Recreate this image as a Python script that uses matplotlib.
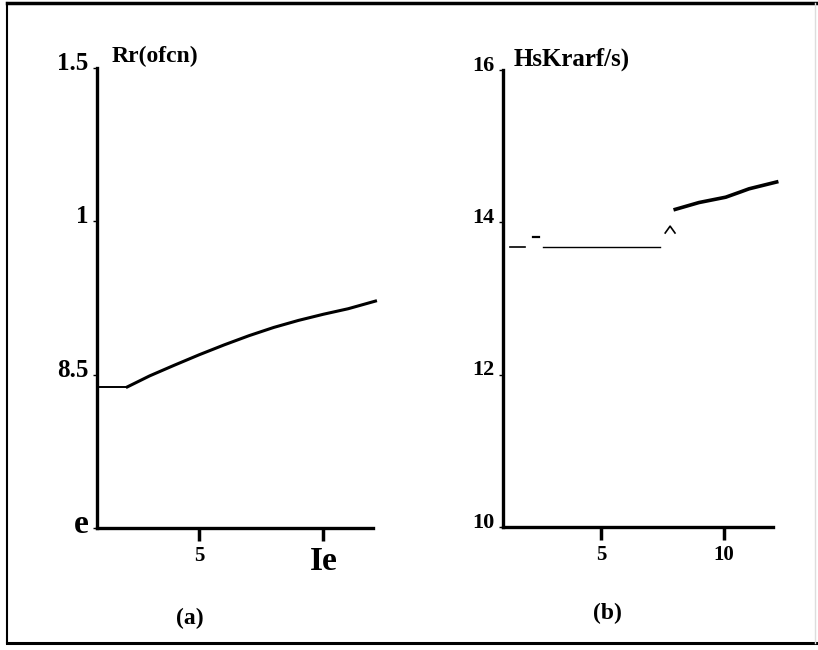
import matplotlib.pyplot as plt
import matplotlib.transforms as mtransforms
from matplotlib.lines import Line2D

# ---- data ----
# panel (a)
a_x = [1.0, 2.1, 3, 4, 5, 6, 7, 8, 9, 10, 11, 12.1]
a_y = [0.46, 0.46, 0.496, 0.531, 0.565, 0.597, 0.627, 0.654, 0.677, 0.697, 0.715, 0.74]
a_yticks = [0, 0.5, 1, 1.5]
a_yticklabels = ['e', '8.5', '1', '1.5']
a_xticks = [5, 10]
a_xticklabels = ['5', 'Ie']

# panel (b): broken flat part, the small caret, then the rising part
b_flat1_x = [1.28, 1.89]
b_flat1_y = [13.68, 13.68]
b_flat2_x = [2.22, 2.46]
b_flat2_y = [13.81, 13.81]
b_flat3_x = [2.63, 7.38]
b_flat3_y = [13.68, 13.68]
b_caret_x = [7.6, 7.8, 8.0]
b_caret_y = [13.86, 13.95, 13.86]
b_rise_x = [8.01, 8.98, 10.07, 10.68, 11.02, 12.15]
b_rise_y = [14.17, 14.26, 14.33, 14.40, 14.44, 14.53]
b_yticks = [10, 12, 14, 16]
b_yticklabels = ['10', '12', '14', '16']
b_xticks = [5, 10]
b_xticklabels = ['5', '10']

plt.rcParams['font.family'] = 'Liberation Serif'
plt.rcParams['font.weight'] = 'bold'

fig = plt.figure(figsize=(8.18, 6.5), dpi=100)
W, H = 818.0, 650.0


def setup(ax, xlim, ylim, yticks, yticklabels, xticks, xticklabels, ysize):
    ax.set_xlim(*xlim)
    ax.set_ylim(*ylim)
    for s in ['top', 'right']:
        ax.spines[s].set_visible(False)
    for s in ['left', 'bottom']:
        ax.spines[s].set_linewidth(2.4)
    ax.set_yticks(yticks)
    ax.set_yticklabels(yticklabels, fontsize=ysize, fontweight='bold')
    ax.set_xticks(xticks)
    ax.set_xticklabels(xticklabels, fontsize=15, fontweight='bold')
    ax.tick_params(axis='y', length=3, width=1, pad=3)
    ax.tick_params(axis='x', length=9, width=2.5, pad=4)
    # labels sit a little above their tick in the scan
    off = mtransforms.ScaledTranslation(0, 7 / 100., fig.dpi_scale_trans)
    for lab in ax.get_yticklabels():
        lab.set_transform(lab.get_transform() + off)


# panel (a)
ax1 = fig.add_axes([97 / W, 1 - 528 / H, 276 / W, 460 / H])
setup(ax1, (0.88, 12.0), (0, 1.5), a_yticks, a_yticklabels, a_xticks, a_xticklabels, 18)
ax1.plot(a_x[:2], a_y[:2], color='black', lw=1.4, clip_on=False)
ax1.plot(a_x[1:], a_y[1:], color='black', lw=2.2, clip_on=False)
ax1.get_yticklabels()[0].set_fontsize(24)
ax1.get_xticklabels()[1].set_fontsize(24)

# panel (b)
ax2 = fig.add_axes([503 / W, 1 - 527 / H, 270 / W, 457 / H])
setup(ax2, (0.98, 12.0), (10, 16), b_yticks, b_yticklabels, b_xticks, b_xticklabels, 16)
ax2.plot(b_flat1_x, b_flat1_y, color='black', lw=1.2, clip_on=False)
ax2.plot(b_flat2_x, b_flat2_y, color='black', lw=1.6, clip_on=False)
ax2.plot(b_flat3_x, b_flat3_y, color='black', lw=1.0, clip_on=False)
ax2.plot(b_caret_x, b_caret_y, color='black', lw=1.2, clip_on=False)
ax2.plot(b_rise_x, b_rise_y, color='black', lw=2.6, clip_on=False)

# axis titles and panel captions
fig.text(112 / W, 1 - 56 / H, 'Rr(ofcn)', fontsize=17, fontweight='bold', va='center')
fig.text(514 / W, 1 - 59 / H, 'HsKrarf/s)', fontsize=18, fontweight='bold', va='center')
fig.text(190 / W, 1 - 618 / H, '(a)', fontsize=17, fontweight='bold', ha='center', va='center')
fig.text(607 / W, 1 - 613 / H, '(b)', fontsize=17, fontweight='bold', ha='center', va='center')

# scanned frame round the figure
fig.add_artist(Line2D([7 / W, 7 / W], [1 - 643 / H, 1 - 3 / H], color='black', lw=1.5))
fig.add_artist(Line2D([7 / W, 1.0], [1 - 3 / H, 1 - 3 / H], color='black', lw=2.5))
fig.add_artist(Line2D([7 / W, 1.0], [1 - 643 / H, 1 - 643 / H], color='black', lw=2.2))
fig.add_artist(Line2D([815 / W, 815 / W], [1 - 643 / H, 1 - 3 / H], color='#dddddd', lw=1))

fig.savefig('out.png', dpi=100)
